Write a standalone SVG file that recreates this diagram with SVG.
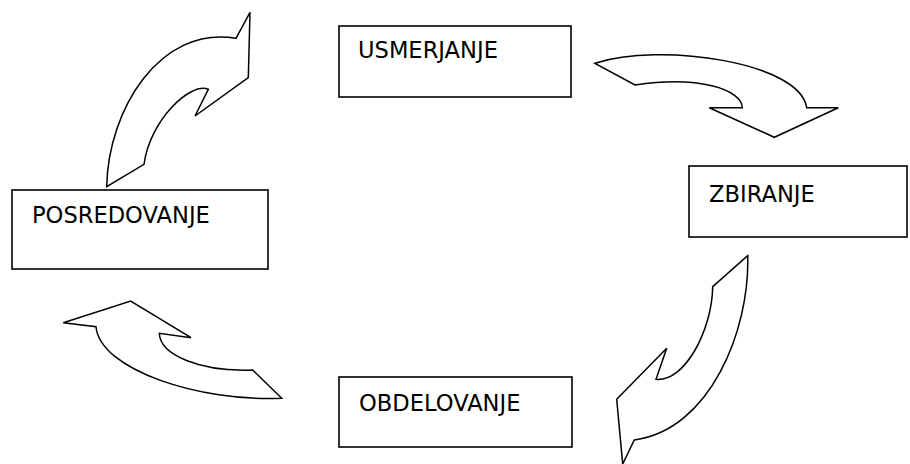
<svg xmlns="http://www.w3.org/2000/svg" width="910" height="464" viewBox="0 0 910 464">
  <style>
    .box { fill: #ffffff; stroke: #000000; stroke-width: 1.6; }
    .label { font-family: "DejaVu Sans", Verdana, sans-serif; font-size: 22.6px; fill: #000000; }
    .arrow { fill: #ffffff; stroke: #000000; stroke-width: 1.5; stroke-linejoin: miter; }
  </style>
  <rect width="910" height="464" fill="#ffffff"/>

  <!-- curved block arrows forming the cycle -->
  <g id="connectors">
    <!-- POSREDOVANJE to USMERJANJE -->
    <path class="arrow" d="M106.7,186.7 C108,110 160,25 236,38.3 L250,12.3 L248.3,77.7 L195,116 L208.3,89.3 C190,82 150,120 144,164.3 Z"/>
    <!-- USMERJANJE to ZBIRANJE -->
    <path class="arrow" d="M595,63.3 C660,42 800,62 806.7,107.7 L838.3,107.7 L774.3,137.3 L709.3,107.7 L742.3,107.7 C742,90 700,75 635,85 Z"/>
    <!-- ZBIRANJE to OBDELOVANJE -->
    <path class="arrow" d="M747.7,255.7 C750,330 710,430 634.3,440 L622.7,464 L616.7,399.3 L666.7,348.3 L656,379.3 C685,382 712,330 712.7,286.7 Z"/>
    <!-- OBDELOVANJE to POSREDOVANJE -->
    <path class="arrow" d="M281.7,398.3 C200,402 100,370 96,326.7 L63.3,322.7 L130.7,301 L191,337.7 L159.3,333.3 C160,355 200,372 252.7,370 Z"/>
  </g>

  <g id="usmerjanje">
    <rect class="box" x="339" y="26" width="232" height="71"/>
    <text class="label" x="358" y="58">USMERJANJE</text>
  </g>
  <g id="zbiranje">
    <rect class="box" x="689" y="166" width="218" height="71"/>
    <text class="label" x="709" y="202">ZBIRANJE</text>
  </g>
  <g id="obdelovanje">
    <rect class="box" x="339" y="377" width="233" height="70"/>
    <text class="label" x="359" y="411">OBDELOVANJE</text>
  </g>
  <g id="posredovanje">
    <rect class="box" x="12" y="190" width="256" height="79"/>
    <text class="label" x="32" y="223">POSREDOVANJE</text>
  </g>
</svg>
